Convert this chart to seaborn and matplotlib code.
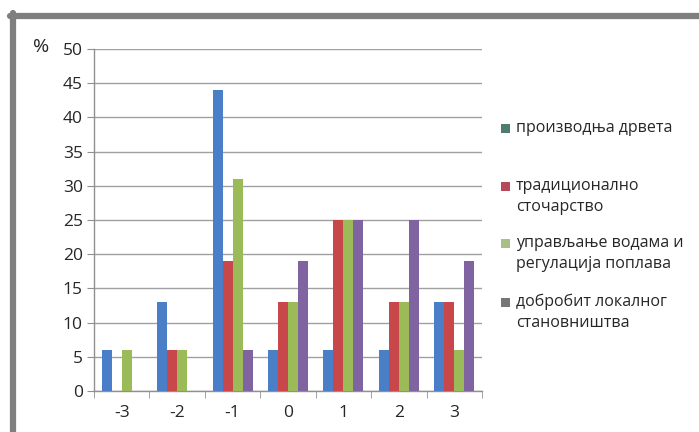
import pandas as pd
import matplotlib.pyplot as plt
import seaborn as sns
from matplotlib.patches import Rectangle
from matplotlib.lines import Line2D

# Scores on the x axis
categories = ['-3', '-2', '-1', '0', '1', '2', '3']

# Share of answers (%) per ecosystem service
wood = [6, 13, 44, 6, 6, 6, 13]
cattle = [0, 6, 19, 13, 25, 13, 13]
water = [6, 6, 31, 13, 25, 13, 6]
locals_ = [0, 0, 6, 19, 25, 25, 19]

series_names = ['производња дрвета', 'традиционално\nсточарство',
                'управљање водама и\nрегулација поплава', 'добробит локалног\nстановништва']

rows = []
for name, vals in zip(series_names, [wood, cattle, water, locals_]):
    for c, v in zip(categories, vals):
        rows.append({'score': c, 'value': v, 'service': name})
df = pd.DataFrame(rows)

bar_colors = ['#4A7EC6', '#C8474A', '#9BBB59', '#8064A2']
legend_colors = ['#4E7C70', '#B5485A', '#A9BF86', '#767676']

sns.set_style('white')
plt.rcParams['font.family'] = ['Open Sans', 'DejaVu Sans']

fig = plt.figure(figsize=(6.99, 4.32), dpi=100)
ax = fig.add_axes([94 / 699, 1 - 391 / 432, (482 - 94) / 699, (391 - 49) / 432])

sns.barplot(data=df, x='score', y='value', hue='service', palette=bar_colors,
            width=0.72, gap=0, linewidth=0, ax=ax, legend=False, saturation=1, zorder=3)

ax.set_ylim(0, 50)
ax.set_xlim(-0.5, 6.5)
ax.set_yticks(range(0, 51, 5))
ax.yaxis.grid(True, color='#a0a0a0', linewidth=1, zorder=0)
ax.set_axisbelow(True)
ax.set_xlabel('')
ax.set_ylabel('')
for s in ['top', 'right']:
    ax.spines[s].set_visible(False)
for s in ['left', 'bottom']:
    ax.spines[s].set_color('#909090')
    ax.spines[s].set_linewidth(1)

ax.tick_params(axis='y', length=5, color='#909090', labelsize=12.5, pad=3, left=True)
ax.tick_params(axis='x', which='major', length=0, labelsize=12.5, pad=10)
ax.set_xticks([i - 0.5 for i in range(8)], minor=True)
ax.tick_params(axis='x', which='minor', length=5, color='#909090', bottom=True)

fig.text(33 / 699, 1 - 47 / 432, '%', fontsize=14, ha='left', va='center')

# legend drawn beside the plot, marker aligned with the first text line
leg_y = [128, 186, 243, 302]
for name, col, y in zip(series_names, legend_colors, leg_y):
    fig.add_artist(Rectangle((501 / 699, 1 - (y + 5) / 432), 9 / 699, 9 / 432,
                             transform=fig.transFigure, color=col, lw=0))
    fig.text(516 / 699, 1 - (y - 8) / 432, name, fontsize=11.5, ha='left', va='top',
             linespacing=1.4)

# grey frame on top and left edges
fig.add_artist(Line2D([10 / 699, 1], [1 - 16 / 432, 1 - 16 / 432], transform=fig.transFigure,
                      color='#7f7f7f', linewidth=4.5))
fig.add_artist(Line2D([13 / 699, 13 / 699], [0, 1 - 13 / 432], transform=fig.transFigure,
                      color='#7f7f7f', linewidth=4.5))

fig.savefig('out.png', dpi=100)
